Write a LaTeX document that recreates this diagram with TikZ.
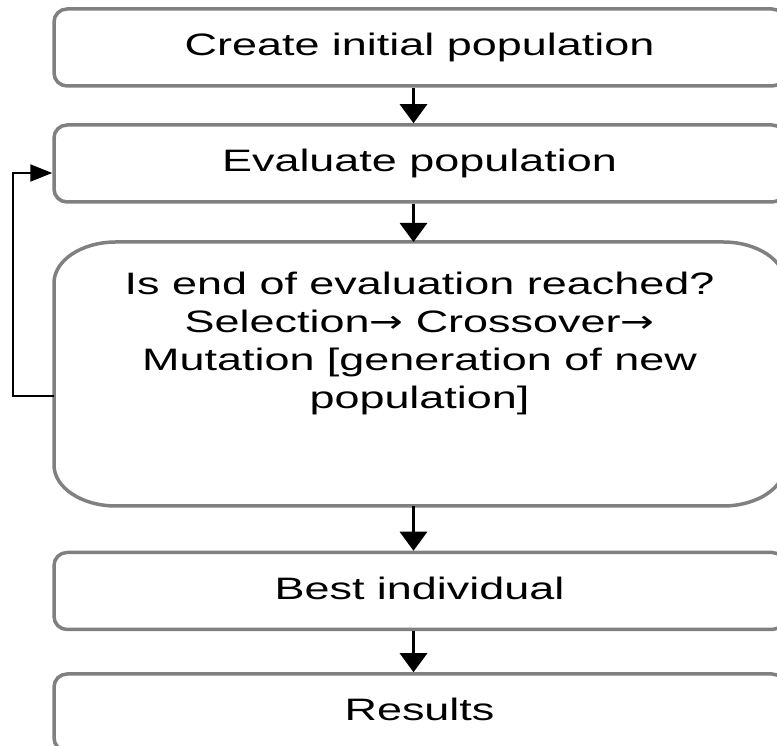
\documentclass[tikz,border=0pt]{standalone}
\usepackage{fontspec}
\setmainfont{Liberation Sans}[FakeStretch=1.45]
\newfontfamily\arrowfont{DejaVu Sans}[FakeStretch=1.3]
\usetikzlibrary{arrows.meta}
\begin{document}
\begin{tikzpicture}[x=1pt,y=1pt]
    \tikzstyle{stage} = [rectangle, draw=gray, line width=3.5pt, rounded corners=13pt, minimum width=731pt, minimum height=77pt, inner sep=0pt, text height=23pt, text depth=6.5pt, font=\fontsize{31}{38}\selectfont]
    \tikzstyle{bigstage} = [rectangle, draw=none, outer sep=0pt, minimum width=731pt, minimum height=264pt]
    \tikzstyle{outline} = [draw=gray, line width=3.5pt]
    \tikzstyle{arrow} = [line width=3pt, -{Triangle[width=27pt,length=19pt]}]
    \tikzstyle{back} = [line width=2pt, -{Triangle[width=17pt,length=22pt]}]

    \useasboundingbox (0,0) rectangle (777,746);

    % Create initial population
    \node [stage] (create) at (419.5,698.5) {Create initial population};

    % Evaluate population
    \node [stage] (evaluate) at (419.5,582.5) {Evaluate population};

    % End of evaluation, new population
    \node [bigstage] (evalend) at (419.5,372) {};
    \draw [outline] ([xshift=62pt]evalend.north west) -- ([xshift=-62pt]evalend.north east)
        arc[start angle=90, end angle=0, x radius=62pt, y radius=41pt]
        -- ([yshift=41pt]evalend.south east)
        arc[start angle=0, end angle=-90, x radius=62pt, y radius=41pt]
        -- ([xshift=62pt]evalend.south west)
        arc[start angle=270, end angle=180, x radius=62pt, y radius=41pt]
        -- ([yshift=-41pt]evalend.north west)
        arc[start angle=180, end angle=90, x radius=62pt, y radius=41pt] -- cycle;
    \node [anchor=north, inner sep=0pt, align=center, font=\fontsize{31}{38}\selectfont] (evalendtext) at ([yshift=-30pt]evalend.north) {Is end of evaluation reached?\\Selection{\arrowfont →} Crossover{\arrowfont →}\\Mutation [generation of new\\population]};

    % Best individual
    \node [stage] (best) at (419.5,155) {Best individual};

    % Results
    \node [stage] (results) at (419.5,33.5) {Results};

    % Flow
    \draw [arrow] ([xshift=-6pt]create.south) -- ([xshift=-6pt]evaluate.north);
    \draw [arrow] ([xshift=-6pt]evaluate.south) -- ([xshift=-6pt]evalend.north);
    \draw [arrow] ([xshift=-6pt]evalend.south) -- ([xshift=-6pt]best.north);
    \draw [arrow] ([xshift=-6pt]best.south) -- ([xshift=-6pt]results.north);

    % Loop back
    \draw [back] ([yshift=-22pt]evalend.west) -- ++(-41pt,0) |- ([yshift=-9.5pt]evaluate.west);

\end{tikzpicture}
\end{document}
